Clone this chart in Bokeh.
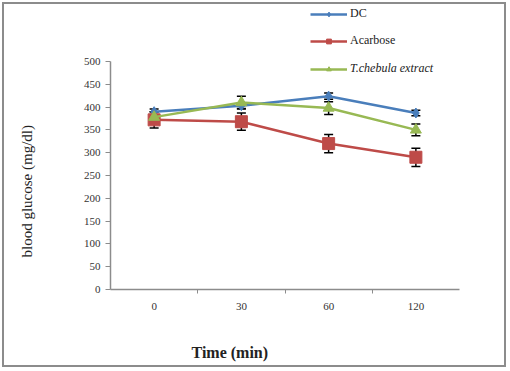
import numpy as np
from bokeh.plotting import figure
from bokeh.models import (Range1d, FixedTicker, Whisker, ColumnDataSource, Legend,
                          LegendItem, Title, TeeHead)
from bokeh.embed import file_html
from bokeh.resources import INLINE

times = ["0", "30", "60", "120"]
dc = [390, 403, 424, 387]
dc_err = [6, 6, 7, 6]
acarbose = [372, 368, 320, 290]
acarbose_err = [18, 19, 20, 20]
chebula = [378, 410, 398, 350]
chebula_err = [12, 14, 14, 13]
y_ticks = list(range(0, 501, 50))

FONT = "Liberation Serif"
xs = [i + 0.5 for i in range(len(times))]

W, H = 508, 369
LEFT, RIGHT, BOTTOM = 110, 49, 80
FRAME_H = H - BOTTOM
AXIS_TOP_PX = 61  # where y=500 sits, measured from the top of the canvas
y_end = y_ticks[-1] * FRAME_H / (FRAME_H - AXIS_TOP_PX)

p = figure(width=W, height=H, output_backend="svg", toolbar_location=None,
           x_range=Range1d(0, len(times)), y_range=Range1d(0, y_end),
           min_border_left=LEFT, min_border_right=RIGHT, min_border_top=0,
           min_border_bottom=BOTTOM)
p.outline_line_color = None
p.xgrid.visible = False
p.ygrid.visible = False
p.background_fill_alpha = 0
p.border_fill_alpha = 0
p.styles = {"outline": "2px solid #8c8c8c", "outline-offset": "-4px"}

series = [
    ("DC", dc, dc_err, "#4a7ebb", "diamond", 10),
    ("Acarbose", acarbose, acarbose_err, "#be4b48", "square", 12),
    ("T.chebula extract", chebula, chebula_err, "#98b954", "triangle", 11),
]

items = {}
for name, vals, errs, col, mk, sz in series:
    src = ColumnDataSource(dict(x=xs, y=vals,
                                lo=[v - e for v, e in zip(vals, errs)],
                                hi=[v + e for v, e in zip(vals, errs)]))
    ln = p.line("x", "y", source=src, line_color=col, line_width=2.5)
    sc = p.scatter("x", "y", source=src, marker=mk, size=sz, fill_color=col, line_color=col)
    w = Whisker(base="x", lower="lo", upper="hi", source=src, line_color="black", line_width=1.5,
                upper_head=TeeHead(size=9, line_color="black", line_width=1.5),
                lower_head=TeeHead(size=9, line_color="black", line_width=1.5))
    p.add_layout(w)
    items[name] = [ln, sc]

leg1 = Legend(items=[LegendItem(label="DC", renderers=items["DC"]),
                     LegendItem(label="Acarbose", renderers=items["Acarbose"])],
              location=(200, 241))
leg2 = Legend(items=[LegendItem(label="T.chebula extract", renderers=items["T.chebula extract"])],
              location=(200, 213))
for lg in (leg1, leg2):
    lg.background_fill_alpha = 0
    lg.border_line_color = None
    lg.padding = 0
    lg.margin = 0
    lg.spacing = 12
    lg.glyph_width = 37
    lg.glyph_height = 12
    lg.label_height = 12
    lg.label_standoff = 3
    lg.label_text_font = FONT
    lg.label_text_font_size = "12px"
    lg.label_text_color = "#222222"
    p.add_layout(lg)
leg2.label_text_font_style = "italic"

# axes
xa = p.xaxis[0]
xa.ticker = FixedTicker(ticks=xs, minor_ticks=[1, 2, 3])
xa.major_label_overrides = {x: t for x, t in zip(xs, times)}
xa.major_tick_out = 0
xa.major_tick_in = 0
xa.minor_tick_out = 4
xa.minor_tick_in = 0
xa.major_label_standoff = 9

ya = p.yaxis[0]
ya.ticker = FixedTicker(ticks=y_ticks, minor_ticks=[])
ya.bounds = (y_ticks[0], y_ticks[-1])
ya.major_tick_out = 5
ya.major_tick_in = 0
ya.minor_tick_out = 0
ya.major_label_standoff = 5

for ax in (xa, ya):
    ax.axis_line_color = "#8c8c8c"
    ax.axis_line_width = 1.5
    ax.major_tick_line_color = "#8c8c8c"
    ax.minor_tick_line_color = "#8c8c8c"
    ax.major_label_text_font = FONT
    ax.major_label_text_font_size = "11px"
    ax.major_label_text_color = "#333333"

# spacer titles push the axis titles outwards
p.add_layout(Title(text=" ", standoff=43, text_font_size="1px"), "left")
p.add_layout(Title(text="blood glucose (mg/dl)", align="left", offset=32, standoff=0,
                   text_font=FONT, text_font_size="15px", text_font_style="normal",
                   text_color="#222222"), "left")
p.add_layout(Title(text=" ", standoff=26, text_font_size="1px"), "below")
p.add_layout(Title(text="Time (min)", align="left", offset=81, standoff=0,
                   text_font=FONT, text_font_size="16px", text_font_style="bold",
                   text_color="#222222"), "below")

open("out.html", "w").write(file_html(p, INLINE))
